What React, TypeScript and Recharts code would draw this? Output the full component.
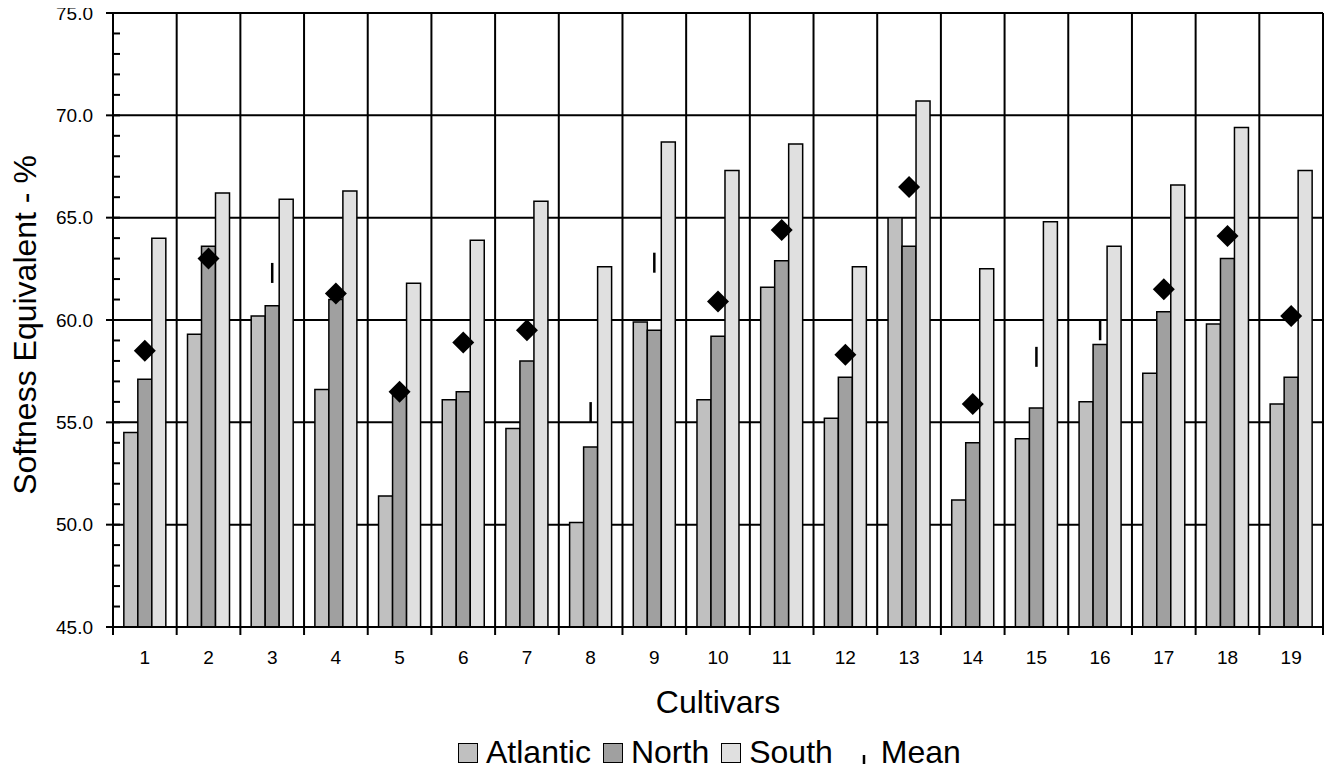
import React from "react";
import {
  ComposedChart,
  Bar,
  Scatter,
  XAxis,
  YAxis,
  CartesianGrid,
  Legend,
} from "recharts";

const CULTIVARS = ["1", "2", "3", "4", "5", "6", "7", "8", "9", "10", "11", "12", "13", "14", "15", "16", "17", "18", "19"];
const ATLANTIC = [54.5, 59.3, 60.2, 56.6, 51.4, 56.1, 54.7, 50.1, 59.9, 56.1, 61.6, 55.2, 65.0, 51.2, 54.2, 56.0, 57.4, 59.8, 55.9];
const NORTH = [57.1, 63.6, 60.7, 61.0, 56.3, 56.5, 58.0, 53.8, 59.5, 59.2, 62.9, 57.2, 63.6, 54.0, 55.7, 58.8, 60.4, 63.0, 57.2];
const SOUTH = [64.0, 66.2, 65.9, 66.3, 61.8, 63.9, 65.8, 62.6, 68.7, 67.3, 68.6, 62.6, 70.7, 62.5, 64.8, 63.6, 66.6, 69.4, 67.3];
const MEAN = [58.5, 63.0, 62.3, 61.3, 56.5, 58.9, 59.5, 55.5, 62.8, 60.9, 64.4, 58.3, 66.5, 55.9, 58.2, 59.5, 61.5, 64.1, 60.2];

// cultivars whose mean marker shows up as a short dash instead of a diamond
const DASH_MEANS = ["3", "8", "9", "15", "16"];

const Y_DOMAIN = [45, 75];
const Y_MAJOR = [45, 50, 55, 60, 65, 70, 75];
const Y_TICKS = [45, 46, 47, 48, 49, 50, 51, 52, 53, 54, 55, 56, 57, 58, 59, 60, 61, 62, 63, 64, 65, 66, 67, 68, 69, 70, 71, 72, 73, 74, 75];

const SERIES = [
  { key: "Atlantic", color: "#C0C0C0" },
  { key: "North", color: "#A0A0A0" },
  { key: "South", color: "#E0E0E0" },
];

const FONT = '"Liberation Sans", Arial, Helvetica, sans-serif';
const TICK_SIZE = 7;
const Y_TICK_MARGIN = 13;
const X_TICK_MARGIN = 24;

const data = CULTIVARS.map((name, i) => ({
  name,
  Atlantic: ATLANTIC[i],
  North: NORTH[i],
  South: SOUTH[i],
  Mean: MEAN[i],
}));

function MeanMarker(props: any) {
  const { cx, cy, payload } = props;
  if (cx == null || cy == null) return null;
  if (DASH_MEANS.includes(payload?.name)) {
    return <line x1={cx} x2={cx} y1={cy - 10} y2={cy + 10} stroke="#000" strokeWidth={2.5} />;
  }
  return (
    <polygon
      points={`${cx},${cy - 11} ${cx + 11},${cy} ${cx},${cy + 11} ${cx - 11},${cy}`}
      fill="#000"
    />
  );
}

// major ticks point out with a label, minor ticks point into the plot
function YTick(props: any) {
  const { x, y, payload } = props;
  const v = payload.value;
  const axisX = x + TICK_SIZE + Y_TICK_MARGIN;
  const major = Y_MAJOR.includes(v);
  return (
    <g>
      <line x1={axisX} x2={axisX + TICK_SIZE} y1={y} y2={y} stroke="#000" strokeWidth={2} />
      {major && (
        <>
          <line x1={axisX - TICK_SIZE} x2={axisX} y1={y} y2={y} stroke="#000" strokeWidth={2} />
          <text x={x} y={y} dy="0.355em" textAnchor="end" fontSize={19} fontFamily={FONT} fill="#000">
            {Number(v).toFixed(1)}
          </text>
        </>
      )}
    </g>
  );
}

// label under each category, tick marks on the category boundaries
function XTick(props: any) {
  const { x, y, payload, index } = props;
  const band = (props.width || 1210) / CULTIVARS.length;
  const axisY = y - X_TICK_MARGIN;
  const last = index === CULTIVARS.length - 1;
  return (
    <g>
      <line x1={x - band / 2} x2={x - band / 2} y1={axisY} y2={axisY + 8} stroke="#000" strokeWidth={2} />
      {last && (
        <line x1={x + band / 2} x2={x + band / 2} y1={axisY} y2={axisY + 8} stroke="#000" strokeWidth={2} />
      )}
      <text x={x} y={y} dy="0.71em" textAnchor="middle" fontSize={19} fontFamily={FONT} fill="#000">
        {payload.value}
      </text>
    </g>
  );
}

function ChartLegend() {
  return (
    <div
      style={{
        display: "flex",
        alignItems: "flex-start",
        paddingLeft: 450,
        paddingTop: 5,
        fontFamily: FONT,
        fontSize: 32,
        color: "#000",
        lineHeight: "normal",
      }}
    >
      {SERIES.map((s) => (
        <div key={s.key} style={{ display: "flex", alignItems: "center", marginRight: 12 }}>
          <span
            style={{
              display: "inline-block",
              width: 18,
              height: 18,
              background: s.color,
              border: "1.5px solid #000",
              marginRight: 8,
            }}
          />
          <span>{s.key}</span>
        </div>
      ))}
      <div style={{ display: "flex", alignItems: "flex-start", marginLeft: 12 }}>
        <svg width={14} height={37} style={{ marginRight: 10 }}>
          <line x1={7} x2={7} y1={21} y2={30} stroke="#000" strokeWidth={2.5} />
        </svg>
        <span>Mean</span>
      </div>
    </div>
  );
}

export default function App() {
  return (
    <div style={{ marginTop: -8 }}>
      <ComposedChart
        width={1327}
        height={773}
        data={data}
        margin={{ top: 13, right: 12, bottom: 0, left: 0 }}
        barCategoryGap="17%"
        barGap={0}
      >
        <CartesianGrid
          stroke="#000"
          strokeWidth={2}
          verticalCoordinatesGenerator={({ offset }: any) =>
            CULTIVARS.map((_, i) => offset.left + (i * offset.width) / CULTIVARS.length).concat(
              offset.left + offset.width
            )
          }
          horizontalCoordinatesGenerator={({ yAxis, offset }: any) =>
            Y_MAJOR.map((v) =>
              yAxis && typeof yAxis.scale === "function"
                ? yAxis.scale(v)
                : offset.top + (offset.height * (Y_DOMAIN[1] - v)) / (Y_DOMAIN[1] - Y_DOMAIN[0])
            )
          }
        />
        <XAxis
          dataKey="name"
          type="category"
          height={102}
          interval={0}
          tickLine={false}
          tickSize={0}
          tickMargin={X_TICK_MARGIN}
          axisLine={{ stroke: "#000", strokeWidth: 2 }}
          tick={<XTick />}
          label={{
            content: (p: any) => {
              const vb = p.viewBox || {};
              return (
                <text
                  x={(vb.x ?? 105) + (vb.width ?? 1210) / 2}
                  y={713}
                  textAnchor="middle"
                  fontSize={32}
                  fontFamily={FONT}
                  fill="#000"
                >
                  Cultivars
                </text>
              );
            },
          }}
        />
        <YAxis
          domain={Y_DOMAIN}
          ticks={Y_TICKS}
          interval={0}
          width={105}
          tickSize={TICK_SIZE}
          tickMargin={Y_TICK_MARGIN}
          tickLine={false}
          axisLine={{ stroke: "#000", strokeWidth: 2 }}
          tick={<YTick />}
          label={{
            content: (p: any) => {
              const vb = p.viewBox || {};
              const cy = (vb.y ?? 13) + (vb.height ?? 614) / 2 + 5;
              return (
                <text
                  x={28}
                  y={cy}
                  transform={`rotate(-90, 28, ${cy})`}
                  textAnchor="middle"
                  fontSize={32}
                  fontFamily={FONT}
                  fill="#000"
                >
                  Softness Equivalent - %
                </text>
              );
            },
          }}
        />
        {SERIES.map((s) => (
          <Bar
            key={s.key}
            dataKey={s.key}
            fill={s.color}
            stroke="#000"
            strokeWidth={1.5}
            isAnimationActive={false}
          />
        ))}
        <Scatter dataKey="Mean" fill="#000" shape={MeanMarker} isAnimationActive={false} />
        <Legend
          verticalAlign="bottom"
          height={44}
          width={1327}
          wrapperStyle={{ left: 0 }}
          content={() => <ChartLegend />}
        />
      </ComposedChart>
    </div>
  );
}
